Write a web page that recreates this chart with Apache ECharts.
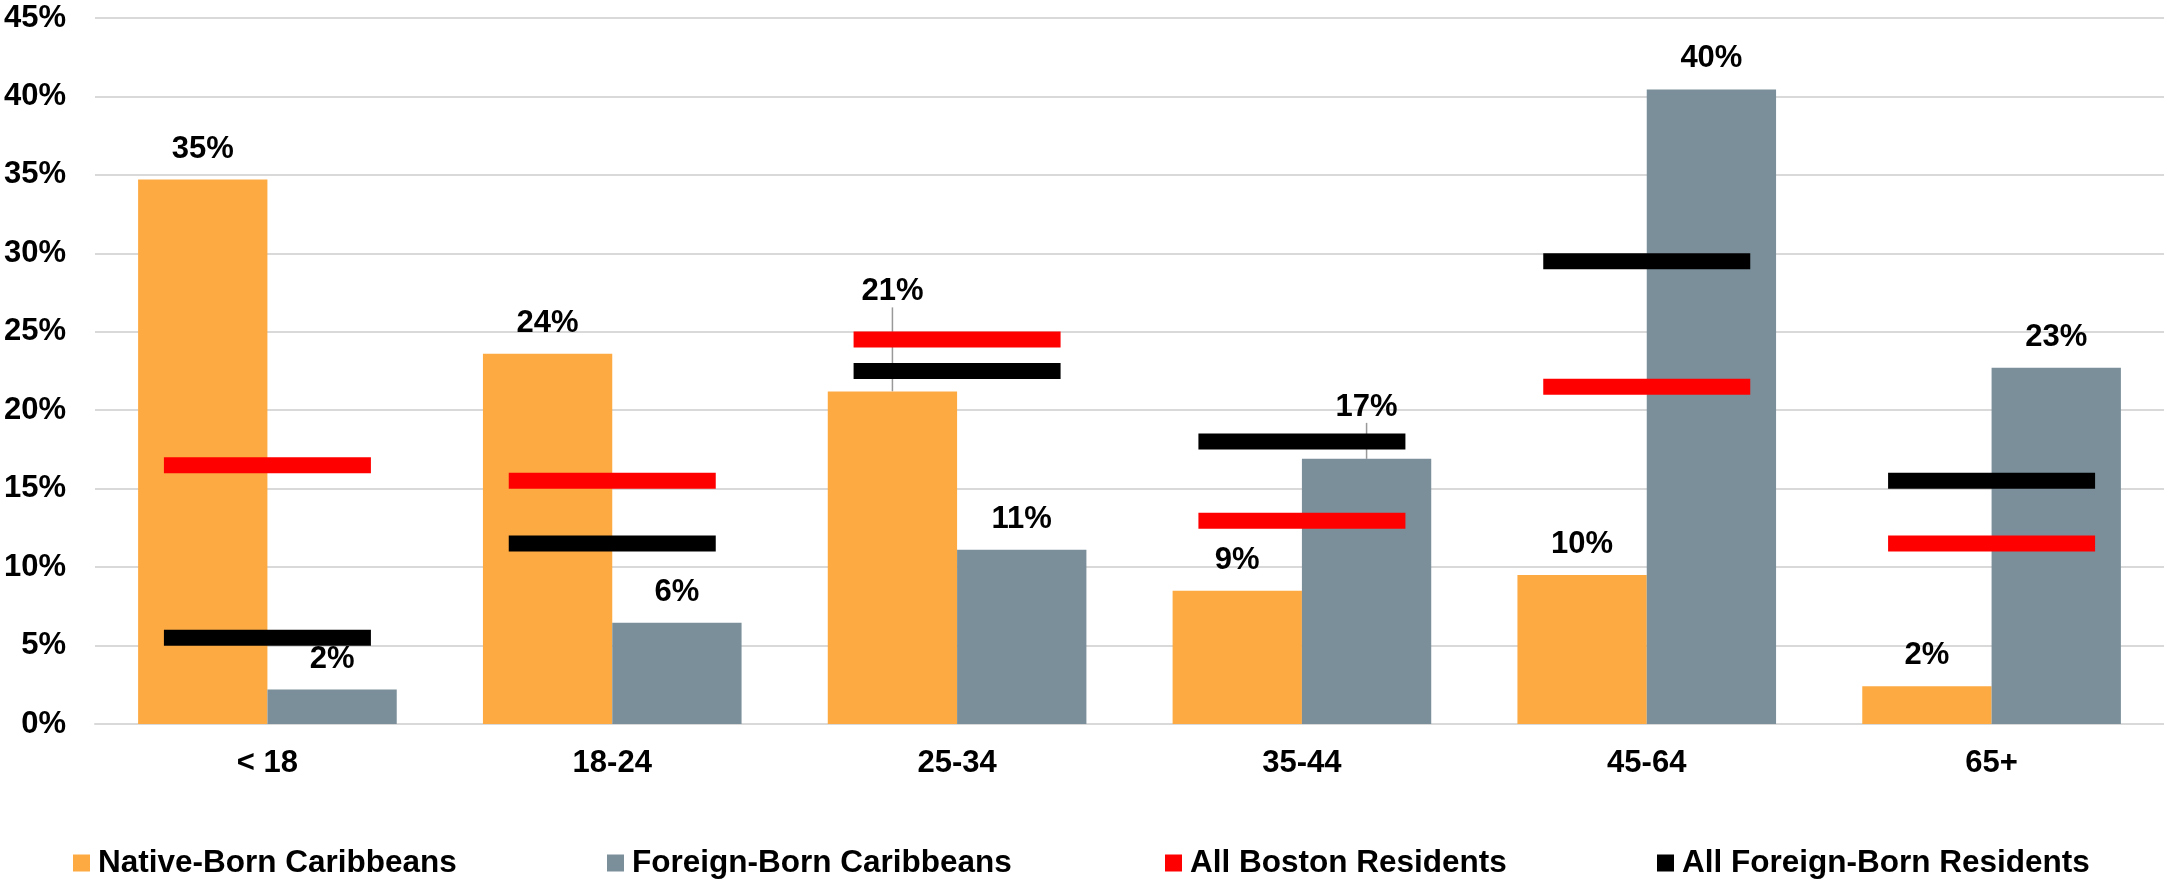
<!DOCTYPE html>
<html>
<head>
<meta charset="utf-8">
<script src="https://cdn.jsdelivr.net/npm/echarts@6/dist/echarts.min.js"></script>
<style>
  html, body { margin: 0; padding: 0; background: #fff; }
  #chart { width: 2164px; height: 882px; }
</style>
</head>
<body>
<div id="chart"></div>
<script>
// age groups
const ageGroups = ['< 18', '18-24', '25-34', '35-44', '45-64', '65+'];

// bars (% of each group)
const nativeBorn = [34.7, 23.6, 21.2, 8.5, 9.5, 2.4];
const foreignBorn = [2.2, 6.45, 11.1, 16.9, 40.45, 22.7];

// marker lines
const allBoston = [16.5, 15.5, 24.5, 12.95, 21.5, 11.5];
const allForeignBorn = [5.5, 11.5, 22.5, 18.0, 29.5, 15.5];

const yTicks = { min: 0, max: 45, step: 5 };

const FONT = '"Liberation Sans", Arial, sans-serif';
const TEXT = { fontFamily: FONT, fontWeight: 'bold', fontSize: 31, color: '#000' };

const COLORS = {
  native: '#fdaa43',
  foreign: '#7a8f9a',
  boston: '#ff0000',
  allForeign: '#000000'
};

const chart = echarts.init(document.getElementById('chart'));

const valueLabel = {
  show: true,
  position: 'top',
  distance: 15,
  ...TEXT,
  formatter: (p) => Math.round(p.value) + '%'
};

// labels that were pushed up above the marker lines in the original
const liftNative = { 2: -69 };
const liftForeign = { 3: -21 };

// only the lifted labels get a leader line
const withLeader = (values, lift) =>
  values.map((v, i) => (lift[i]
    ? { value: v, labelLine: { show: true, lineStyle: { color: '#999', width: 1.5 } } }
    : v));

const makeLegend = (name, left) => ({
  data: [name],
  left: left,
  top: 847,
  padding: 0,
  icon: 'rect',
  itemWidth: 17,
  itemHeight: 17,
  textStyle: { ...TEXT, fontSize: 31.5, padding: [0, 0, 0, 3] }
});

const option = {
  animation: false,
  backgroundColor: '#fff',
  grid: { left: 95, right: 0, top: 18, bottom: 158 },
  legend: [
    makeLegend('Native-Born Caribbeans', 73),
    makeLegend('Foreign-Born Caribbeans', 607),
    makeLegend('All Boston Residents', 1165),
    makeLegend('All Foreign-Born Residents', 1657)
  ],
  xAxis: {
    type: 'category',
    data: ageGroups,
    axisLine: { show: true, lineStyle: { color: '#d9d9d9', width: 2 } },
    axisTick: { show: false },
    axisLabel: { ...TEXT, margin: 24 }
  },
  yAxis: {
    type: 'value',
    min: yTicks.min,
    max: yTicks.max,
    interval: yTicks.step,
    axisLine: { show: false },
    axisTick: { show: false },
    splitLine: { lineStyle: { color: '#d9d9d9', width: 2 } },
    axisLabel: { ...TEXT, margin: 29, formatter: '{value}%' }
  },
  series: [
    {
      name: 'Native-Born Caribbeans',
      type: 'bar',
      data: withLeader(nativeBorn, liftNative),
      barGap: '0%',
      barCategoryGap: '25%',
      itemStyle: { color: COLORS.native },
      label: valueLabel,
      labelLine: { show: false },
      labelLayout: (p) => (liftNative[p.dataIndex] ? { dy: liftNative[p.dataIndex] } : {})
    },
    {
      name: 'Foreign-Born Caribbeans',
      type: 'bar',
      data: withLeader(foreignBorn, liftForeign),
      barGap: '0%',
      barCategoryGap: '25%',
      itemStyle: { color: COLORS.foreign },
      label: valueLabel,
      labelLine: { show: false },
      labelLayout: (p) => (liftForeign[p.dataIndex] ? { dy: liftForeign[p.dataIndex] } : {})
    },
    {
      name: 'All Boston Residents',
      type: 'scatter',
      data: allBoston,
      symbol: 'rect',
      symbolSize: [207, 16],
      itemStyle: { color: COLORS.boston, opacity: 1 },
      z: 3
    },
    {
      name: 'All Foreign-Born Residents',
      type: 'scatter',
      data: allForeignBorn,
      symbol: 'rect',
      symbolSize: [207, 16],
      itemStyle: { color: COLORS.allForeign, opacity: 1 },
      z: 3
    }
  ]
};

chart.setOption(option);
</script>
</body>
</html>
